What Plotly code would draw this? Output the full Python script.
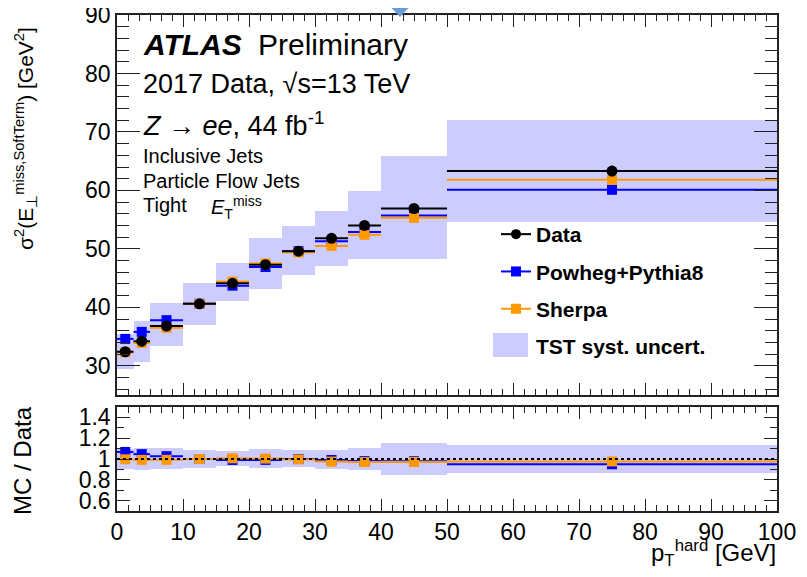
import plotly.graph_objects as go

# ---------------- data ----------------
bin_lo = [0, 2.5, 5, 10, 15, 20, 25, 30, 35, 40, 50]
bin_hi = [2.5, 5, 10, 15, 20, 25, 30, 35, 40, 50, 100]
data = [32.4, 34.2, 36.8, 40.6, 44.1, 47.3, 49.6, 51.8, 54.0, 56.9, 63.3]
data_err = [0.3, 0.3, 0.3, 0.3, 0.3, 0.3, 0.3, 0.4, 0.4, 0.5, 0.9]
powheg = [34.6, 35.8, 37.8, 40.6, 43.7, 46.9, 49.6, 51.3, 52.9, 55.7, 60.1]
sherpa = [32.3, 33.9, 36.5, 40.6, 44.4, 47.5, 49.4, 50.5, 52.4, 55.3, 61.8]
syst_lo = [29.4, 30.7, 33.3, 37.0, 41.0, 43.1, 45.6, 47.0, 48.2, 48.2, 54.6]
syst_hi = [35.5, 37.7, 40.7, 44.1, 47.5, 51.8, 53.9, 56.5, 59.9, 65.8, 72.0]

centers = [(a + b) / 2 for a, b in zip(bin_lo, bin_hi)]
widths = [b - a for a, b in zip(bin_lo, bin_hi)]
half = [w / 2 for w in widths]

r_powheg = [m / d for m, d in zip(powheg, data)]
r_sherpa = [m / d for m, d in zip(sherpa, data)]
r_lo = [l / d for l, d in zip(syst_lo, data)]
r_hi = [h / d for h, d in zip(syst_hi, data)]

BLUE = "#0000ff"
ORANGE = "#ff9900"
BAND = "#ccccff"
FONT = "Liberation Sans, Arial, Helvetica, sans-serif"

W, H = 807, 577
OFF = 8  # page body offset of the rendered figure
# desired on-screen plot frame: x 117..777, y 15..511
L = 117 - OFF
T = 15 - OFF
R = W - (777 - OFF)
B = H - (511 - OFF)


def px(x):
    return (x - OFF - L) / (W - L - R)


def py(y):
    return (H - B - (y - OFF)) / (H - T - B)


fig = go.Figure()

# ---------------- top panel ----------------
fig.add_trace(go.Bar(
    x=centers, y=[h - l for h, l in zip(syst_hi, syst_lo)], base=syst_lo,
    width=widths, marker=dict(color=BAND, line=dict(width=0)),
    name="TST syst. uncert.", legendgroup="d", legendrank=4,
    xaxis="x", yaxis="y", showlegend=True))

fig.add_trace(go.Scatter(
    x=centers, y=powheg, mode="markers",
    marker=dict(symbol="square", size=10, color=BLUE),
    error_x=dict(type="data", array=half, width=0, thickness=2, color=BLUE),
    showlegend=False, xaxis="x", yaxis="y"))
fig.add_trace(go.Scatter(
    x=centers, y=sherpa, mode="markers",
    marker=dict(symbol="square", size=10, color=ORANGE),
    error_x=dict(type="data", array=half, width=0, thickness=2, color=ORANGE),
    showlegend=False, xaxis="x", yaxis="y"))
fig.add_trace(go.Scatter(
    x=centers, y=data, mode="markers",
    marker=dict(symbol="circle", size=11, color="black"),
    error_x=dict(type="data", array=half, width=0, thickness=2, color="black"),
    error_y=dict(type="data", array=data_err, width=0, thickness=2, color="black"),
    showlegend=False, xaxis="x", yaxis="y"))

# legend-only entries
fig.add_trace(go.Scatter(x=[None], y=[None], mode="lines+markers", name="Data",
                         line=dict(color="black", width=2),
                         marker=dict(symbol="circle", size=10, color="black"),
                         legendgroup="a", legendrank=1, xaxis="x", yaxis="y"))
fig.add_trace(go.Scatter(x=[None], y=[None], mode="lines+markers", name="Powheg+Pythia8",
                         line=dict(color=BLUE, width=2),
                         marker=dict(symbol="square", size=10, color=BLUE),
                         legendgroup="b", legendrank=2, xaxis="x", yaxis="y"))
fig.add_trace(go.Scatter(x=[None], y=[None], mode="lines+markers", name="Sherpa",
                         line=dict(color=ORANGE, width=2),
                         marker=dict(symbol="square", size=10, color=ORANGE),
                         legendgroup="c", legendrank=3, xaxis="x", yaxis="y"))

# ---------------- ratio panel ----------------
fig.add_trace(go.Bar(
    x=centers, y=[h - l for h, l in zip(r_hi, r_lo)], base=r_lo,
    width=widths, marker=dict(color=BAND, line=dict(width=0)),
    showlegend=False, xaxis="x2", yaxis="y2"))
fig.add_trace(go.Scatter(
    x=centers, y=r_powheg, mode="markers",
    marker=dict(symbol="square", size=10, color=BLUE),
    error_x=dict(type="data", array=half, width=0, thickness=2, color=BLUE),
    showlegend=False, xaxis="x2", yaxis="y2"))
fig.add_trace(go.Scatter(
    x=centers, y=r_sherpa, mode="markers",
    marker=dict(symbol="square", size=10, color=ORANGE),
    error_x=dict(type="data", array=half, width=0, thickness=2, color=ORANGE),
    showlegend=False, xaxis="x2", yaxis="y2"))

axis_common = dict(showline=True, linecolor="#222", linewidth=1.5, mirror="allticks",
                   ticks="inside", tickcolor="#222", tickwidth=1.2, showgrid=False,
                   zeroline=False, automargin=False, ticklabeloverflow="allow",
                   tickfont=dict(family=FONT, size=23, color="black"))

top_dom = [py(395), 1.0]
bot_dom = [0.0, py(407)]

fig.update_layout(
    width=W, height=H,
    margin=dict(l=L, r=R, t=T, b=B, autoexpand=False),
    paper_bgcolor="white", plot_bgcolor="white",
    barmode="overlay", bargap=0,
    font=dict(family=FONT, color="black"),
    xaxis=dict(domain=[0, 1], range=[0, 100], anchor="y", showticklabels=False,
               dtick=10, tick0=0, ticklen=12,
               minor=dict(dtick=10 / 6, tick0=0, ticklen=6, ticks="inside", tickcolor="#222"),
               **axis_common),
    yaxis=dict(domain=top_dom, range=[25, 90.0001], anchor="x", dtick=10, tick0=0, ticklen=23,
               minor=dict(dtick=2, tick0=0, ticklen=12, ticks="inside", tickcolor="#222"),
               **axis_common),
    xaxis2=dict(domain=[0, 1], range=[0, 100], anchor="y2", matches="x",
                dtick=10, tick0=0, ticklen=12,
                minor=dict(dtick=10 / 6, tick0=0, ticklen=6, ticks="inside", tickcolor="#222"),
                **axis_common),
    yaxis2=dict(domain=bot_dom, range=[0.5, 1.5], anchor="x2", dtick=0.2, tick0=0,
                ticklen=13,
                minor=dict(dtick=0.1, tick0=0, ticklen=7, ticks="inside", tickcolor="#222"),
                **axis_common),
    legend=dict(x=px(496), y=py(214), xanchor="left", yanchor="top",
                bgcolor="rgba(0,0,0,0)", tracegroupgap=7,
                font=dict(family=FONT, size=21, color="black", weight="bold"),
                traceorder="grouped"),
    showlegend=True,
)

# larger box behind the band's legend swatch
fig.add_shape(type="rect", xref="paper", yref="paper",
              x0=px(493), x1=px(528), y0=py(357), y1=py(333),
              fillcolor=BAND, line=dict(width=0), layer="above")

# dotted unity line in ratio
fig.add_shape(type="line", xref="x2", yref="y2", x0=0, x1=100, y0=1, y1=1,
              line=dict(color="black", width=2, dash="dot"), layer="above")

# blue arrow artefact at top
fig.add_shape(type="path", xref="paper", yref="paper",
              path=f"M {px(384)},{py(0)} L {px(416)},{py(0)} L {px(400)},{py(17)} Z",
              fillcolor="#6b9bd6", line=dict(width=0), layer="above")


def ann(text, x, y, size, xanchor="left", yanchor="middle", angle=0):
    fig.add_annotation(text=text, x=px(x), y=py(y), xref="paper", yref="paper",
                       xanchor=xanchor, yanchor=yanchor, showarrow=False,
                       textangle=angle, font=dict(family=FONT, size=size, color="black"))


ann("<b><i>ATLAS</i></b>", 141, 45, 30)
ann("Preliminary", 256, 45, 30)
ann("2017 Data, √s=13 TeV", 141, 84, 27)
ann("<i>Z</i> → <i>ee</i>, 44 fb<sup>-1</sup>", 141, 124, 27)
ann("Inclusive Jets", 141, 156, 20)
ann("Particle Flow Jets", 141, 181, 20)
ann("Tight", 141, 205, 20)
ann("<i>E</i><sub>T</sub><sup>miss</sup>", 209, 207, 20)

ann("σ<sup>2</sup>(E<sub>⊥</sub><sup>miss,SoftTerm</sup>) [GeV<sup>2</sup>]", 25, 139, 21,
    xanchor="center", yanchor="middle", angle=-90)
ann("MC / Data", 22, 460, 24, xanchor="center", yanchor="middle", angle=-90)
ann("p<sub>T</sub><sup>hard</sup> [GeV]", 778, 553, 24, xanchor="right", yanchor="middle")

fig.write_html("out.html")
